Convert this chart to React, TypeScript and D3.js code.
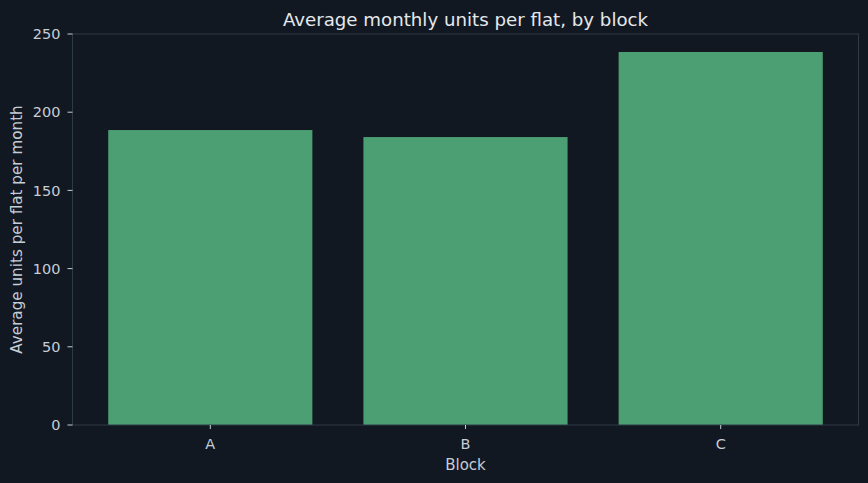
import React from "react";
import * as d3 from "d3";

const blocks = ["A", "B", "C"];
const avgUnits = [188.6, 184.1, 238.5];
const yTicks = [0, 50, 100, 150, 200, 250];

const W = 868;
const H = 483;
const M = { left: 72.5, right: 9.5, top: 34, bottom: 58 };
const BG = "#121821";
const BAR = "#4c9f72";
const SPINE = "#2e3b46";
const TXT = "#c5cdd6";
const FONT = "DejaVu Sans, sans-serif";

export default function App() {
  const x = d3
    .scaleLinear()
    .domain([-0.54, blocks.length - 1 + 0.54])
    .range([M.left, W - M.right]);
  const y = d3.scaleLinear().domain([0, 250]).range([H - M.bottom, M.top]);
  const bw = x(0.8) - x(0);
  React.useEffect(() => {
    document.body.style.margin = "0";
    document.body.style.background = BG;
  }, []);
  return (
    <div style={{ position: "fixed", left: 0, top: 0, width: W, height: H }}>
      <svg width={W} height={H} style={{ display: "block", background: BG }} fontFamily={FONT}>
        <rect x={0} y={0} width={W} height={H} fill={BG} />
        {avgUnits.map((v, i) => (
          <rect key={i} x={x(i) - bw / 2} y={y(v)} width={bw} height={y(0) - y(v)} fill={BAR} />
        ))}
        <rect
          x={M.left}
          y={M.top}
          width={W - M.right - M.left}
          height={y(0) - M.top}
          fill="none"
          stroke={SPINE}
          strokeWidth={1}
        />
        {yTicks.map((t) => (
          <g key={t}>
            <line x1={M.left - 5} x2={M.left} y1={y(t)} y2={y(t)} stroke={TXT} strokeWidth={1} />
            <text x={M.left - 12} y={y(t)} dy="0.36em" textAnchor="end" fontSize={14.5} fill={TXT}>
              {t}
            </text>
          </g>
        ))}
        {blocks.map((b, i) => (
          <g key={b}>
            <line x1={x(i)} x2={x(i)} y1={y(0)} y2={y(0) + 4} stroke={TXT} strokeWidth={1} />
            <text x={x(i)} y={y(0) + 24} textAnchor="middle" fontSize={14.5} fill={TXT}>
              {b}
            </text>
          </g>
        ))}
        <text x={(M.left + W - M.right) / 2} y={470} textAnchor="middle" fontSize={15} fill={TXT}>
          Block
        </text>
        <text
          transform={`translate(22, ${(M.top + y(0)) / 2}) rotate(-90)`}
          textAnchor="middle"
          fontSize={15.2}
          fill={TXT}
        >
          Average units per flat per month
        </text>
        <text x={(M.left + W - M.right) / 2} y={26} textAnchor="middle" fontSize={18.2} fill="#e4e8ed">
          Average monthly units per flat, by block
        </text>
      </svg>
    </div>
  );
}
